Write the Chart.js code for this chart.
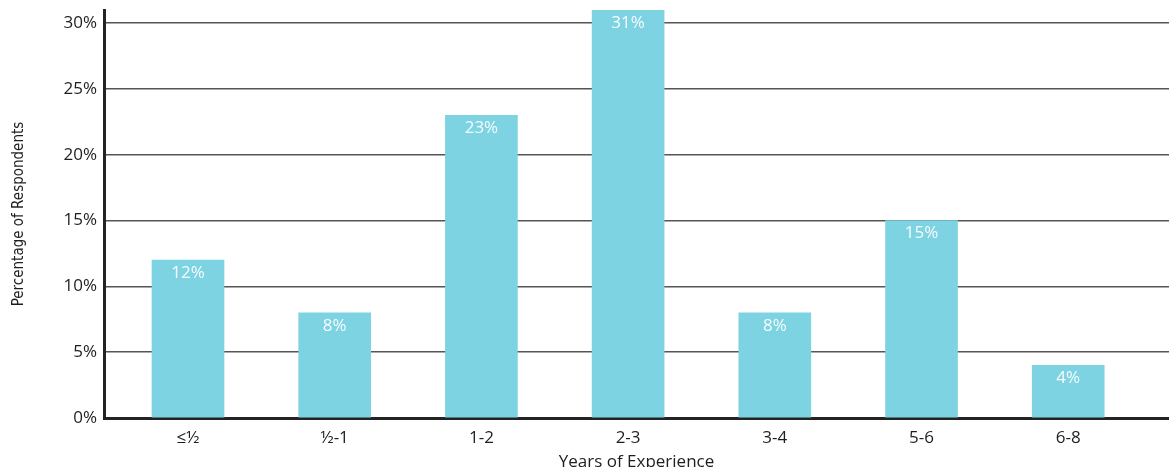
<!DOCTYPE html>
<html>
<head>
<meta charset="utf-8">
<script src="https://cdn.jsdelivr.net/npm/chart.js@4.4.1/dist/chart.umd.min.js"></script>
<style>
  html, body { margin: 0; padding: 0; background: #ffffff; }
  #wrap { position: relative; width: 1169px; height: 467px; }
</style>
</head>
<body>
<div id="wrap"><canvas id="chart"></canvas></div>
<script>
// Survey: share of respondents by years of experience
const categories = ['≤½', '½-1', '1-2', '2-3', '3-4', '5-6', '6-8'];
const percentages = [12, 8, 23, 31, 8, 15, 4];
const yTickValues = [0, 5, 10, 15, 20, 25, 30];

const FONT = '"Open Sans", "DejaVu Sans", sans-serif';
const NARROW = '"Liberation Sans Narrow", "DejaVu Sans Condensed", "Open Sans", sans-serif';

// Writes each bar's percentage just inside its top edge
const barValueLabels = {
  id: 'barValueLabels',
  afterDatasetsDraw(chart) {
    const { ctx } = chart;
    const meta = chart.getDatasetMeta(0);
    ctx.save();
    ctx.font = '17px ' + FONT;
    ctx.fillStyle = 'rgba(255,255,255,0.93)';
    ctx.textAlign = 'center';
    ctx.textBaseline = 'middle';
    meta.data.forEach((bar, i) => {
      const { x, y } = bar.getProps(['x', 'y'], true);
      ctx.fillText(percentages[i] + '%', x, y + 13);
    });
    ctx.restore();
  }
};

new Chart(document.getElementById('chart'), {
  type: 'bar',
  data: {
    datasets: [{
      data: categories.map((c, i) => ({ x: i, y: percentages[i] })),
      backgroundColor: '#7dd3e2',
      borderWidth: 0,
      barThickness: 72
    }]
  },
  options: {
    responsive: true,
    maintainAspectRatio: false,
    animation: false,
    layout: { padding: { top: 10, right: 0, bottom: 0, left: 0 } },
    plugins: {
      legend: { display: false },
      tooltip: { enabled: false }
    },
    scales: {
      x: {
        type: 'linear',
        offset: false,
        min: -0.5726,
        max: 6.687,
        grid: { display: false, drawTicks: false },
        border: { display: true, color: '#232323', width: 3 },
        afterBuildTicks(scale) {
          scale.ticks = categories.map((c, i) => ({ value: i }));
        },
        afterFit(scale) { scale.height = 49; },
        ticks: {
          padding: 10,
          color: '#1e1e1e',
          font: { family: FONT, size: 17 },
          maxRotation: 0,
          autoSkip: false,
          callback: (v) => categories[v] ?? ''
        },
        title: {
          display: true,
          text: 'Years of Experience',
          color: '#1e1e1e',
          font: { family: FONT, size: 17 },
          padding: { top: 0, bottom: -5 }
        }
      },
      y: {
        min: 0,
        max: 31,
        afterBuildTicks(scale) {
          scale.ticks = yTickValues.map(v => ({ value: v }));
        },
        afterFit(scale) {
          scale.width = 104;
          scale.paddingTop = 0;
        },
        grid: {
          color: '#555555',
          lineWidth: 1.5,
          drawTicks: false
        },
        border: { display: true, color: '#232323', width: 3 },
        ticks: {
          padding: 7,
          color: '#1e1e1e',
          font: { family: FONT, size: 17 },
          callback: (v) => v + '%'
        },
        title: {
          display: true,
          text: 'Percentage of Respondents',
          color: '#1e1e1e',
          font: { family: NARROW, size: 15 },
          padding: { top: 10, bottom: 0 }
        }
      }
    }
  },
  plugins: [barValueLabels]
});
</script>
</body>
</html>
